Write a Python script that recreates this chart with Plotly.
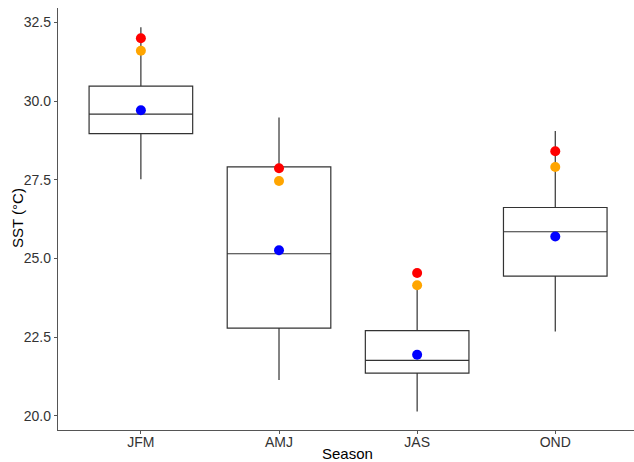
import plotly.graph_objects as go

seasons = ["JFM", "AMJ", "JAS", "OND"]
lower_whisker = [27.52, 21.14, 20.14, 22.68]
q1 = [28.97, 22.79, 21.36, 24.44]
median = [29.59, 25.15, 21.76, 25.85]
q3 = [30.48, 27.91, 22.71, 26.62]
upper_whisker = [32.35, 29.48, 24.20, 29.05]
mean_sst = [29.71, 25.26, 21.94, 25.70]      # blue
orange_sst = [31.60, 27.46, 24.15, 27.91]    # orange
red_sst = [32.00, 27.87, 24.54, 28.41]       # red

xpos = list(range(len(seasons)))

fig = go.Figure()
fig.add_trace(go.Box(
    x=xpos, q1=q1, median=median, q3=q3,
    lowerfence=lower_whisker, upperfence=upper_whisker,
    width=0.75, fillcolor="white",
    line=dict(color="#333333", width=1.2),
    whiskerwidth=0, boxpoints=False, showlegend=False, hoverinfo="skip",
))
for vals, col in [(mean_sst, "#0000FF"), (orange_sst, "#FFA500"), (red_sst, "#FF0000")]:
    fig.add_trace(go.Scatter(
        x=xpos, y=vals, mode="markers",
        marker=dict(color=col, size=10, line=dict(width=0)),
        showlegend=False, hoverinfo="skip",
    ))

font_family = "Liberation Sans, Arial, sans-serif"
axis_common = dict(
    showline=True, linecolor="#555555", linewidth=1.3,
    ticks="outside", ticklen=3, tickcolor="#555555", tickwidth=1,
    showgrid=False, zeroline=False, mirror=False, automargin=False,
    tickfont=dict(family=font_family, size=14, color="#333333"),
)

L, R, T, B = 58, 0, 8, 32
W, H = 634, 462
pw, ph = W - L - R, H - T - B

fig.update_layout(
    width=W, height=H,
    margin=dict(l=L, r=R, t=T, b=B),
    plot_bgcolor="white", paper_bgcolor="white",
    xaxis=dict(
        **axis_common,
        tickmode="array", tickvals=xpos, ticktext=seasons,
        range=[-0.6, 3.57],
        ticklabelstandoff=-4,
    ),
    yaxis=dict(
        **axis_common,
        range=[19.55, 32.96],
        tickvals=[20.0, 22.5, 25.0, 27.5, 30.0, 32.5],
        ticktext=["20.0", "22.5", "25.0", "27.5", "30.0", "32.5"],
    ),
    annotations=[
        dict(text="Season", xref="paper", yref="paper",
             x=(347 - L) / pw, y=(H - B - 454) / ph, xanchor="center", yanchor="middle",
             showarrow=False, font=dict(family=font_family, size=15, color="black")),
        dict(text="SST (°C)", xref="paper", yref="paper", textangle=-90,
             x=(17 - L) / pw, y=(H - B - 218) / ph, xanchor="center", yanchor="middle",
             showarrow=False, font=dict(family=font_family, size=15, color="black")),
    ],
)

fig.write_html("out.html")
